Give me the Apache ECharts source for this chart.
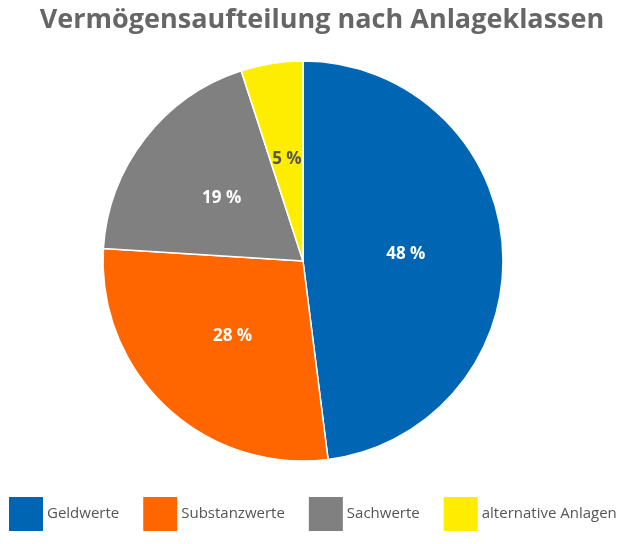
<!DOCTYPE html>
<html lang="de" style="height: 100%">
<head>
  <meta charset="utf-8">
</head>
<body style="height: 100%; margin: 0; background: #fff">
  <div id="container" style="width: 644px; height: 544px"></div>
  <script type="text/javascript" src="https://fastly.jsdelivr.net/npm/echarts@6/dist/echarts.min.js"></script>
  <script type="text/javascript">
    var categories = ['Geldwerte', 'Substanzwerte', 'Sachwerte', 'alternative Anlagen'];
    var values = [48, 28, 19, 5];
    var colors = ['#0066b3', '#ff6600', '#808080', '#ffed00'];
    var labelColors = ['#fff', '#fff', '#fff', '#555'];

    var myChart = echarts.init(document.getElementById('container'), null, { renderer: 'canvas' });

    var option = {
      animation: false,
      title: {
        text: 'Vermögensaufteilung nach Anlageklassen',
        left: 'center',
        top: 2,
        textStyle: { fontFamily: 'Open Sans', fontSize: 27, fontWeight: 'bold', color: '#666' }
      },
      legend: {
        left: 2,
        bottom: 6,
        itemWidth: 36,
        itemHeight: 36,
        itemGap: 22,
        icon: 'rect',
        textStyle: { fontFamily: 'Open Sans', fontSize: 15, color: '#555', padding: [0, 0, 0, -2] },
        data: categories
      },
      series: [{
        type: 'pie',
        center: [303, 261],
        radius: 200,
        startAngle: 90,
        clockwise: true,
        itemStyle: { borderColor: '#fff', borderWidth: 1.5 },
        label: {
          position: 'inner',
          fontFamily: 'Open Sans',
          fontSize: 17,
          fontWeight: 'bold',
          formatter: '{c} %'
        },
        labelLine: { show: false },
        data: categories.map(function (name, i) {
          return {
            name: name,
            value: values[i],
            itemStyle: { color: colors[i] },
            label: { color: labelColors[i] }
          };
        })
      }]
    };

    myChart.setOption(option);
    window.addEventListener('resize', myChart.resize);
  </script>
</body>
</html>
